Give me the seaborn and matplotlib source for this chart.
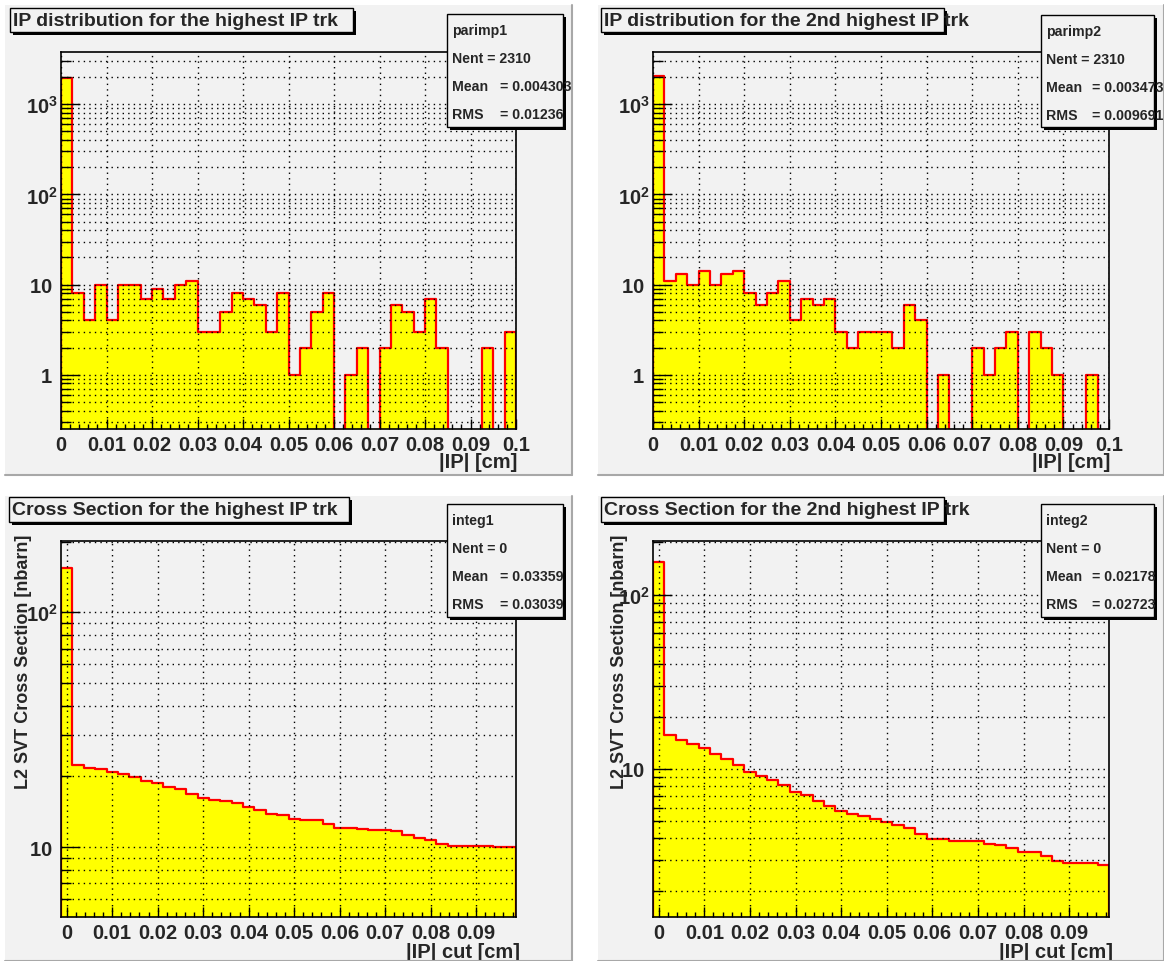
import numpy as np
import pandas as pd
import matplotlib
matplotlib.use("Agg")
import matplotlib.pyplot as plt
import seaborn as sns
from matplotlib.patches import Rectangle
from matplotlib.lines import Line2D
from matplotlib.ticker import LogLocator, MultipleLocator, FuncFormatter, NullFormatter

# binning (40 bins)
ip_edges = np.linspace(0.0, 0.1, 41)
cut_edges = np.linspace(-0.00125, 0.09875, 41)

# |IP| distributions (entries per bin)
parimp1 = [1980, 8, 4, 10, 4, 10, 10, 7, 9, 7, 10, 11, 3, 3, 5, 8, 7, 6, 3, 8,
           1, 2, 5, 8, 0, 1, 2, 0, 2, 6, 5, 3, 7, 2, 0, 0, 0, 2, 0, 3]
parimp2 = [2075, 11, 13, 10, 14, 10, 13, 14, 8, 6, 8, 11, 4, 7, 6, 7, 3, 2, 3, 3,
           3, 2, 6, 4, 0, 1, 0, 0, 2, 1, 2, 3, 0, 3, 2, 1, 0, 0, 1, 0]

# cross section vs |IP| cut [nbarn]
integ1 = [154, 22.4, 21.8, 21.5, 20.8, 20.5, 19.8, 19.1, 18.7, 18.0, 17.6, 16.9,
          16.2, 15.9, 15.7, 15.4, 14.8, 14.4, 13.9, 13.7, 13.2, 13.1, 13.0, 12.6,
          12.05, 12.05, 11.9, 11.85, 11.85, 11.7, 11.25, 10.95, 10.7, 10.3, 10.1,
          10.1, 10.1, 10.1, 10.0, 10.0]
integ2 = [154.5, 15.6, 14.7, 13.85, 13.2, 12.2, 11.46, 10.6, 9.6, 9.08, 8.69, 8.06,
          7.35, 7.06, 6.55, 6.16, 5.72, 5.52, 5.33, 5.14, 4.97, 4.76, 4.59, 4.21,
          3.94, 3.94, 3.85, 3.85, 3.85, 3.72, 3.64, 3.50, 3.31, 3.31, 3.17, 2.97,
          2.87, 2.87, 2.87, 2.81]

titles = ["IP distribution for the highest IP trk",
          "IP distribution for the 2nd highest IP trk",
          "Cross Section for the highest IP trk",
          "Cross Section for the 2nd highest IP trk"]
stat_names = ["parimp1", "parimp2", "integ1", "integ2"]
stat_nent = ["2310", "2310", "0", "0"]
stat_mean = ["0.004303", "0.003473", "0.03359", "0.02178"]
stat_rms = ["0.01236", "0.009691", "0.03039", "0.02723"]

sns.set_style("ticks")
plt.rcParams["font.family"] = ["Liberation Sans", "DejaVu Sans"]
plt.rcParams["font.weight"] = "bold"
plt.rcParams["mathtext.fontset"] = "custom"
plt.rcParams["mathtext.rm"] = "Liberation Sans:bold"
plt.rcParams["mathtext.bf"] = "Liberation Sans:bold"
plt.rcParams["mathtext.it"] = "Liberation Sans:bold"

W, H = 1164, 962
PAD = "#f2f2f2"
fig = plt.figure(figsize=(W / 100, H / 100), dpi=100, facecolor="white")


def frect(x0, y0, x1, y1):
    return (x0 / W, 1 - y1 / H, (x1 - x0) / W, (y1 - y0) / H)


def pad(x0, y0, x1, y1):
    l, b, w, h = frect(x0, y0, x1, y1)
    fig.add_artist(Rectangle((l, b), w, h, transform=fig.transFigure,
                             facecolor=PAD, edgecolor="none", zorder=0))
    fig.add_artist(Line2D([x1 / W, x1 / W], [1 - y0 / H, 1 - y1 / H],
                          transform=fig.transFigure, color="#a8a8a8", lw=1.5))
    fig.add_artist(Line2D([x0 / W, x1 / W], [1 - y1 / H, 1 - y1 / H],
                          transform=fig.transFigure, color="#a8a8a8", lw=1.5))


def shadow_box(x0, y0, x1, y1, off=3):
    l, b, w, h = frect(x0 + off, y0 + off, x1 + off, y1 + off)
    fig.add_artist(Rectangle((l, b), w, h, transform=fig.transFigure,
                             facecolor="black", edgecolor="none", zorder=20))
    l, b, w, h = frect(x0, y0, x1, y1)
    fig.add_artist(Rectangle((l, b), w, h, transform=fig.transFigure,
                             facecolor=PAD, edgecolor="black", lw=1.0, zorder=21))


def log_fmt(v, pos):
    if v <= 10.5:
        return "%d " % round(v)
    return r"$10^{%d}$" % round(np.log10(v))


pads = [(5, 6, 572, 476), (598, 6, 1164, 476), (5, 497, 572, 962), (598, 497, 1164, 962)]
frames = [(61, 53, 516, 430), (653, 53, 1109, 430), (61, 542, 516, 918), (653, 542, 1109, 918)]
title_boxes = [(10, 9, 353, 33), (601, 9, 944, 33), (9, 498, 349, 523), (601, 498, 944, 523)]
stat_boxes = [(447, 15, 563, 128), (1041, 16, 1154, 128), (447, 505, 563, 618), (1041, 505, 1154, 618)]
stat_eq_off = [53, 51, 53, 51]

series = [parimp1, parimp2, integ1, integ2]
edges_list = [ip_edges, ip_edges, cut_edges, cut_edges]
ylims = [(0.25, 3800), (0.25, 3800), (5.04, 201), (1.41, 204)]

for p in pads:
    pad(*p)

for i in range(4):
    ax = fig.add_axes(frect(*frames[i]))
    ax.set_facecolor(PAD)
    edges = edges_list[i]
    df = pd.DataFrame({"x": (edges[:-1] + edges[1:]) / 2, "w": series[i]})
    sns.histplot(data=df, x="x", weights="w", bins=list(edges), element="step",
                 fill=True, color="#ffff00", alpha=1, edgecolor="#ff0000",
                 linewidth=1.6, ax=ax)
    ax.set_yscale("log")
    ax.set_xlim(edges[0], edges[-1])
    ax.set_ylim(*ylims[i])

    ax.xaxis.set_major_locator(MultipleLocator(0.01))
    ax.xaxis.set_minor_locator(MultipleLocator(0.002))
    ax.xaxis.set_major_formatter(FuncFormatter(lambda v, p: "0" if abs(v) < 1e-9 else "%g" % round(v, 3)))
    ax.yaxis.set_major_locator(LogLocator(base=10))
    ax.yaxis.set_minor_locator(LogLocator(base=10, subs=np.arange(2, 10)))
    ax.yaxis.set_major_formatter(FuncFormatter(log_fmt))
    ax.yaxis.set_minor_formatter(NullFormatter())

    ax.set_axisbelow(False)
    ax.grid(True, axis="x", which="major", color="black", linestyle=(0, (1, 3)), lw=1.0)
    ax.grid(True, axis="y", which="both", color="black", linestyle=(0, (1, 3)), lw=1.0)

    ax.tick_params(axis="both", which="both", direction="in", top=False, right=False,
                   labelsize=14.5, color="black", width=1.0)
    ax.tick_params(axis="x", which="major", length=7, pad=4.5)
    ax.tick_params(axis="x", which="minor", length=3.6)
    ax.tick_params(axis="y", which="major", length=14, pad=2)
    ax.tick_params(axis="y", which="minor", length=7)
    for s in ax.spines.values():
        s.set_color("black")
        s.set_linewidth(1.2)

    if i < 2:
        ax.set_xlabel("|IP| [cm]", fontsize=14.5, fontweight="bold", ha="right")
        ax.xaxis.set_label_coords(1.002, -0.062)
        ax.set_ylabel("")
    else:
        ax.set_xlabel("|IP| cut [cm]", fontsize=14.5, fontweight="bold", ha="right")
        ax.xaxis.set_label_coords(1.008, -0.066)
        ax.set_ylabel("L2 SVT Cross Section [nbarn]", fontsize=13, fontweight="bold", ha="right")
        ax.yaxis.set_label_coords(-0.064 if i == 2 else -0.055, 1.019)

    # title pave
    tx0, ty0, tx1, ty1 = title_boxes[i]
    shadow_box(tx0, ty0, tx1, ty1)
    fig.text((tx0 + 3) / W, 1 - ((ty0 + ty1) / 2) / H, titles[i], fontsize=14,
             fontweight="bold", ha="left", va="center", zorder=22)

    # stats pave
    sx0, sy0, sx1, sy1 = stat_boxes[i]
    shadow_box(sx0, sy0, sx1, sy1)
    rows = [(stat_names[i], None), ("Nent = " + stat_nent[i], None),
            ("Mean", "= " + stat_mean[i]), ("RMS", "= " + stat_rms[i])]
    for k, (lab, val) in enumerate(rows):
        yy = 1 - (sy0 + 16 + 28 * k) / H
        fig.text((sx0 + 5) / W, yy, lab, fontsize=10.2, fontweight="bold",
                 ha="left", va="center", zorder=22)
        if val is not None:
            fig.text((sx0 + stat_eq_off[i]) / W, yy, val, fontsize=10.2, fontweight="bold",
                     ha="left", va="center", zorder=22)

fig.savefig("out.png", dpi=100, facecolor="white")
